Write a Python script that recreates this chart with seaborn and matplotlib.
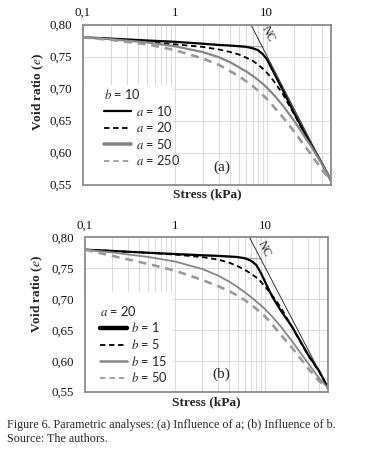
import matplotlib
matplotlib.use('Agg')
import matplotlib.pyplot as plt
from matplotlib.patches import Rectangle
from matplotlib.ticker import NullFormatter
import seaborn as sns

# ============================================================================
# DATA
# ============================================================================

stress = [0.1, 0.2, 0.5, 1, 2, 3, 4, 5, 6, 7, 8, 9, 10, 12, 15, 20, 30, 40, 50]

# panel (a): b = 10, a varies
e_a10 = [0.780, 0.778, 0.775, 0.773, 0.770, 0.768, 0.767, 0.766, 0.765, 0.763,
         0.760, 0.754, 0.746, 0.724, 0.697, 0.661, 0.613, 0.583, 0.556]
e_a20 = [0.780, 0.777, 0.773, 0.769, 0.765, 0.761, 0.757, 0.753, 0.748, 0.7435,
         0.7375, 0.7315, 0.725, 0.711, 0.691, 0.659, 0.612, 0.582, 0.556]
e_a50 = [0.780, 0.777, 0.772, 0.766, 0.757, 0.749, 0.741, 0.733, 0.7265, 0.720,
         0.7136, 0.7075, 0.7015, 0.6896, 0.6731, 0.6487, 0.6108, 0.5821, 0.556]
e_a250 = [0.780, 0.776, 0.769, 0.760, 0.747, 0.737, 0.727, 0.719, 0.711, 0.704,
          0.697, 0.690, 0.684, 0.671, 0.655, 0.632, 0.598, 0.573, 0.556]

# panel (b): a = 20, b varies
e_b1 = [0.780, 0.778, 0.775, 0.773, 0.771, 0.770, 0.769, 0.768, 0.766, 0.762,
        0.755, 0.742, 0.728, 0.704, 0.681, 0.655, 0.610, 0.583, 0.556]
e_b5 = [0.780, 0.778, 0.775, 0.772, 0.768, 0.764, 0.759, 0.753, 0.747, 0.741,
        0.735, 0.728, 0.720, 0.706, 0.686, 0.654, 0.609, 0.582, 0.556]
e_b15 = [0.780, 0.7755, 0.7683, 0.7608, 0.7488, 0.7382, 0.7282, 0.7190, 0.7107,
         0.7030, 0.6960, 0.6896, 0.6836, 0.6717, 0.6552, 0.6314, 0.5962, 0.5712,
         0.556]
e_b50 = [0.780, 0.770, 0.757, 0.746, 0.731, 0.721, 0.713, 0.705, 0.698, 0.691,
         0.684, 0.678, 0.672, 0.659, 0.642, 0.621, 0.588, 0.567, 0.556]

# reference lines: normally consolidated line and recompression line
nc_stress = [6.7, 50]
nc_e = [0.800, 0.556]
oc_stress = [0.1, 9.2]
oc_e = [0.780, 0.765]

labels_a = ['$a$ = 10', '$a$ = 20', '$a$ = 50', '$a$ = 250']
labels_b = ['$b$ = 1', '$b$ = 5', '$b$ = 15', '$b$ = 50']

y_ticks = [0.55, 0.60, 0.65, 0.70, 0.75, 0.80]
x_ticks = [0.1, 1, 10]
x_ticklabels = ['0,1', '1', '10']

# ============================================================================
# STYLE
# ============================================================================

sns.set_style('white')
plt.rcParams['font.family'] = ['Liberation Serif', 'DejaVu Serif']
plt.rcParams['mathtext.fontset'] = 'stix'

BLACK = '#000000'
GREY = '#878787'
GREY_D = '#9a9a9a'
GRID = '#dcdcdc'
FRAME = '#8c8c8c'
SANS = ['Lato', 'DejaVu Sans']

# (color, linewidth, dashes) per curve, same order in both panels
styles_a = [(BLACK, 1.6, None), (BLACK, 1.3, (3.0, 2.0)),
            (GREY, 1.6, None), (GREY_D, 1.9, (3.0, 2.2))]
legend_lw_a = [1.6, 1.3, 2.6, 1.3]
styles_b = [(BLACK, 1.6, None), (BLACK, 1.3, (3.0, 2.0)),
            (GREY, 1.3, None), (GREY_D, 1.9, (3.0, 2.2))]
legend_lw_b = [3.2, 1.3, 1.8, 1.3]


def draw_panel(ax, curves, styles, leg_lw, labels, leg_title, tag,
               nc_xy, leg_anchor, ylab_xy):
    ax.set_xscale('log')

    # reference lines first so the curves sit on top
    sns.lineplot(x=oc_stress, y=oc_e, ax=ax, color='#a6a6a6', linewidth=0.8)
    sns.lineplot(x=nc_stress, y=nc_e, ax=ax, color='#333333', linewidth=0.7)

    handles = []
    for vals, (col, lw, dash), lab, hlw in zip(curves, styles, labels, leg_lw):
        sns.lineplot(x=stress, y=vals, ax=ax, color=col, linewidth=lw)
        line = ax.lines[-1]
        line.set_zorder(3)
        if dash is not None:
            line.set_dashes(dash)
        h = plt.Line2D([], [], color=col, linewidth=hlw)
        if dash is not None:
            h.set_dashes(dash)
        handles.append(h)

    ax.set_xlim(0.1, 50)
    ax.set_ylim(0.55, 0.80)

    ax.set_yticks(y_ticks)
    ax.set_yticklabels([f'{v:.2f}'.replace('.', ',') for v in y_ticks])
    ax.set_xticks(x_ticks)
    ax.set_xticklabels(x_ticklabels)
    ax.xaxis.set_minor_formatter(NullFormatter())
    ax.xaxis.tick_top()
    ax.tick_params(which='both', length=0, labelsize=9.3, colors='#111111')
    ax.tick_params(axis='y', pad=8)
    ax.tick_params(axis='x', pad=4)

    ax.set_axisbelow(True)
    ax.grid(True, which='major', axis='both', color=GRID, linewidth=0.8)
    ax.grid(True, which='minor', axis='x', color=GRID, linewidth=0.8)

    for sp in ax.spines.values():
        sp.set_color(FRAME)
        sp.set_linewidth(1.3)
        sp.set_zorder(5)

    ax.xaxis.set_label_position('bottom')
    ax.set_xlabel('Stress (kPa)', fontsize=9.6, fontweight='bold', labelpad=3)
    ax.set_ylabel('Void ratio ($\\mathbf{\\it{e}}$)', fontsize=9.6,
                  fontweight='bold')
    ax.yaxis.set_label_coords(ylab_xy[0], ylab_xy[1])

    # white legend area hiding the grid in the lower-left corner
    ax.add_patch(Rectangle((0, 0), 0.363, leg_anchor[2], transform=ax.transAxes,
                           facecolor='white', edgecolor='none', zorder=1))

    leg = ax.legend(handles, labels, title=leg_title, loc='upper left',
                    bbox_to_anchor=(leg_anchor[0], leg_anchor[1]),
                    frameon=False, borderpad=0, handlelength=2.1,
                    handletextpad=0.35, labelspacing=0.2, alignment='left',
                    prop={'family': SANS, 'size': 9.2},
                    title_fontproperties={'family': SANS, 'size': 9.2})
    leg.set_zorder(6)

    ax.text(0.56, 0.11, tag, transform=ax.transAxes, fontsize=11,
            ha='center', va='center')
    ax.text(nc_xy[0], nc_xy[1], 'NC', rotation=-63, fontsize=8.5,
            ha='center', va='center', rotation_mode='anchor')


fig = plt.figure(figsize=(3.77, 4.53), dpi=100)
ax_a = fig.add_axes([0.2202, 0.5927, 0.6578, 0.3532])
ax_b = fig.add_axes([0.2255, 0.1353, 0.6446, 0.3408])

draw_panel(ax_a, [e_a10, e_a20, e_a50, e_a250], styles_a, legend_lw_a,
           labels_a, '$b$ = 10', '(a)', (10.4, 0.785), (0.06, 0.648, 0.622),
           (-0.149, 0.575))
draw_panel(ax_b, [e_b1, e_b5, e_b15, e_b50], styles_b, legend_lw_b,
           labels_b, '$a$ = 20', '(b)', (9.7, 0.781), (0.035, 0.61, 0.648),
           (-0.165, 0.633))

fig.text(7 / 377, 1 - 425 / 453,
         'Figure 6. Parametric analyses: (a) Influence of a; (b) Influence of b.',
         fontsize=8.75, va='center', ha='left')
fig.text(7 / 377, 1 - 439 / 453, 'Source: The authors.',
         fontsize=8.75, va='center', ha='left')

fig.savefig('out.png', dpi=100)
